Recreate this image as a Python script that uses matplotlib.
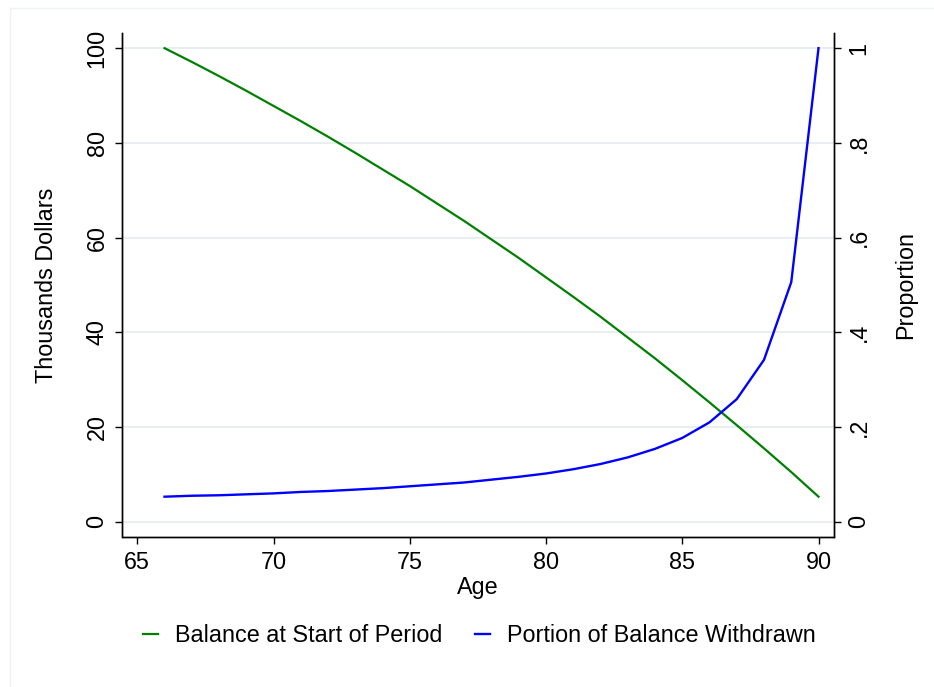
import matplotlib
matplotlib.use("Agg")
import matplotlib.pyplot as plt
from matplotlib.patches import Rectangle

plt.rcParams['font.family'] = ['Liberation Sans', 'DejaVu Sans']

# Data
umur = [66, 67, 68, 69, 70, 71, 72, 73, 74, 75, 76, 77, 78,
        79, 80, 81, 82, 83, 84, 85, 86, 87, 88, 89, 90]
saldo = [100.0, 97.1, 94.1, 91.0, 87.8, 84.6, 81.3, 77.9, 74.4, 70.9,
         67.2, 63.5, 59.6, 55.7, 51.6, 47.5, 43.3, 38.9, 34.5, 29.9,
         25.2, 20.4, 15.5, 10.5, 5.3]
porsi = [0.053, 0.055, 0.056, 0.058, 0.060, 0.063, 0.065, 0.068, 0.071,
         0.075, 0.079, 0.083, 0.089, 0.095, 0.102, 0.111, 0.122, 0.136,
         0.154, 0.177, 0.210, 0.259, 0.342, 0.506, 1.0]

xticks = [65, 70, 75, 80, 85, 90]
yticks_kiri = [0, 20, 40, 60, 80, 100]
yticks_kanan = [0, 0.2, 0.4, 0.6, 0.8, 1.0]
label_kanan = ['0', '.2', '.4', '.6', '.8', '1']

fs = 16.8
warna_grid = '#e8eff2'

fig = plt.figure(figsize=(9.34, 6.87), dpi=100)
ax = fig.add_axes([122.5 / 934, 1 - 537 / 687, 711 / 934, 504 / 687])
ax2 = ax.twinx()

ax.set_xlim(64.457, 90.55)
ax.set_ylim(-3.21, 103.2)
ax2.set_ylim(-0.0321, 1.032)

for y in yticks_kiri:
    ax.axhline(y, color=warna_grid, lw=1.4, zorder=0)

g1, = ax.plot(umur, saldo, color='#008000', lw=1.6, label='Balance at Start of Period')
g2, = ax2.plot(umur, porsi, color='#0000ff', lw=1.7, label='Portion of Balance Withdrawn')

ax.set_xticks(xticks)
ax.set_xticklabels([str(x) for x in xticks])
ax.set_yticks(yticks_kiri)
ax.set_yticklabels([str(y) for y in yticks_kiri], rotation=90, va='center')
ax2.set_yticks(yticks_kanan)
ax2.set_yticklabels(label_kanan, rotation=90, va='center')

for a in (ax, ax2):
    a.spines['top'].set_visible(False)
    for s in a.spines.values():
        s.set_linewidth(1.0)
    a.tick_params(labelsize=fs, length=5, width=1.0, direction='out', pad=5)

ax.xaxis.set_label_coords(0.5, -0.101)
ax.set_xlabel('Age', fontsize=fs, va='center')
ax.yaxis.set_label_coords(-0.1062, 0.5)
ax.set_ylabel('Thousands Dollars', fontsize=fs, va='center')
ax2.yaxis.set_label_coords(1.102, 0.5)
ax2.set_ylabel('Proportion', fontsize=fs, va='center', rotation=90)

fig.legend(handles=[g1, g2], loc='center', bbox_to_anchor=(479 / 934, 1 - 636 / 687),
           ncol=2, frameon=False, fontsize=fs, handlelength=0.64,
           handletextpad=0.73, columnspacing=1.4)

# bingkai tipis di sekeliling grafik
fig.patches.append(Rectangle((10 / 934, -0.01), 1.0, 1 - 8 / 687 + 0.01,
                             transform=fig.transFigure, fill=False,
                             edgecolor='#eef2f4', lw=1.0))

fig.savefig('out.png', dpi=100, facecolor='white')
